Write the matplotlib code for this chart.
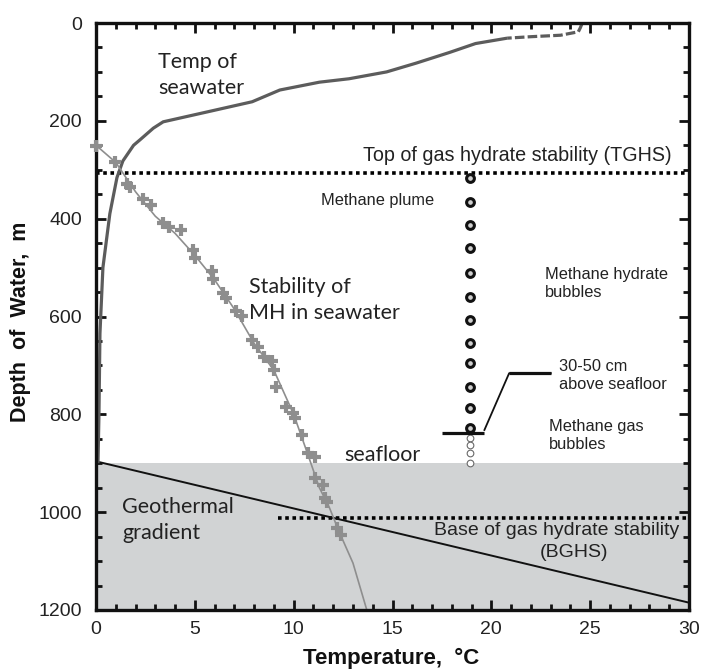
import matplotlib
matplotlib.use("Agg")
import matplotlib.pyplot as plt
from matplotlib.ticker import MultipleLocator
from matplotlib import font_manager

# ---------------- data ----------------
# Seawater temperature profile (deg C, depth m)
sw_surface_T = [24.6, 24.5, 24.4, 23.5, 22.0, 20.8]
sw_surface_d = [0, 10, 18, 25, 28, 31]
sw_T = [20.8, 19.2, 17.9, 16.2, 14.7, 12.8, 11.3, 9.3, 7.9, 5.6, 3.4, 2.9,
        2.22, 1.9, 1.36, 1.06, 0.7, 0.35, 0.2, 0.15, 0.1]
sw_d = [31, 42, 60, 82, 100, 114, 121, 137, 161, 182, 202, 215,
        239, 250, 282, 316, 390, 500, 635, 800, 900]

# Stability of methane hydrate in seawater: fitted line
mh_line_T = [0.0, 1.0, 2.0, 3.0, 4.0, 5.0, 6.0, 7.0, 8.0, 9.0, 10.0, 10.7,
             11.3, 11.8, 12.3, 13.0, 13.7]
mh_line_d = [250, 285, 345, 395, 430, 475, 525, 585, 655, 710, 800, 880,
             950, 990, 1040, 1104, 1200]
# Stability of MH: observations (+)
mh_pts_T = [0.0, 0.95, 1.57, 1.7, 2.4, 2.8, 3.4, 3.7, 4.3, 4.9, 5.0, 5.85, 5.9,
            6.4, 6.6, 7.1, 7.4, 7.9, 8.2, 8.5, 8.9, 9.0, 9.1, 9.6, 9.95, 10.05,
            10.4, 10.7, 11.06, 11.06, 11.5, 11.6, 11.7, 12.2, 12.4]
mh_pts_d = [251, 285, 329, 336, 359, 373, 408, 418, 424, 465, 481, 506, 523,
            551, 563, 588, 598, 649, 663, 683, 690, 710, 745, 786, 798, 808,
            843, 880, 888, 931, 945, 971, 980, 1033, 1047]

# Geothermal gradient
geo_T = [0.2, 30.0]
geo_d = [898, 1185]

seafloor_depth = 900
tghs_depth = 307
bghs_depth = 1012
bghs_T_start = 9.2

# Methane plume bubbles
plume_T = 18.9
hydrate_bubble_d = [317, 366, 413, 460, 511, 560, 607, 654, 695, 744, 787, 828]
gas_bubble_d = [849, 863, 879, 900]

# 30-50 cm marker bar and leader
bar_T = [17.5, 19.65]
bar_d = [838, 838]
leader_T = [19.65, 20.9, 23.0]
leader_d = [832, 716, 716]

x_ticks = [0, 5, 10, 15, 20, 25, 30]
y_ticks = [0, 200, 400, 600, 800, 1000, 1200]

# ---------------- fonts ----------------
avail = {f.name for f in font_manager.fontManager.ttflist}
arial = "Liberation Sans" if "Liberation Sans" in avail else "DejaVu Sans"
human = "Lato" if "Lato" in avail else "DejaVu Sans"

plt.rcParams["font.family"] = [arial, "DejaVu Sans"]

W, H = 701, 669
fig = plt.figure(figsize=(W / 100, H / 100), dpi=100)
ax = fig.add_axes([96 / W, 1 - 610 / H, (689 - 96) / W, (610 - 23) / H])

ax.set_xlim(0, 30)
ax.set_ylim(1200, 0)

# seafloor shading
ax.axhspan(seafloor_depth, 1200, color="#d1d3d4", lw=0, zorder=0)

# dotted TGHS / BGHS lines
ax.plot([0, 30], [tghs_depth, tghs_depth], color="black", lw=2.6,
        ls=(0, (1.0, 1.0)), zorder=3)
ax.plot([bghs_T_start, 30], [bghs_depth, bghs_depth], color="black", lw=2.6,
        ls=(0, (1.0, 1.0)), zorder=3)

# geothermal gradient
ax.plot(geo_T, geo_d, color="#111111", lw=1.4, zorder=4)

# seawater temp
ax.plot(sw_T, sw_d, color="#5c5c5c", lw=2.3, zorder=5, solid_capstyle="butt")
ax.plot(sw_surface_T, sw_surface_d, color="#5c5c5c", lw=2.3, ls=(0, (3, 1)),
        zorder=5)

# MH stability
ax.plot(mh_line_T, mh_line_d, color="#8e8e8e", lw=1.2, zorder=6)
ax.plot(mh_pts_T, mh_pts_d, ls="none", marker="+", ms=9, mew=3.0,
        color="#8e8e8e", zorder=11, clip_on=False)

# plume bubbles
ax.plot([plume_T] * len(gas_bubble_d), gas_bubble_d, ls="none", marker="o",
        ms=4.8, mew=0.8, mec="#6a6a6a", mfc="white", zorder=7)
ax.plot([plume_T] * len(hydrate_bubble_d), hydrate_bubble_d, ls="none",
        marker="o", ms=5.6, mew=2.2, mec="#111111", mfc="#cfcfcf", zorder=8)

# bar + leader
ax.plot(bar_T, bar_d, color="#111111", lw=2.3, zorder=9, solid_capstyle="butt")
ax.plot(leader_T, leader_d, color="#111111", lw=1.3, zorder=9)
ax.plot(leader_T[1:], leader_d[1:], color="#111111", lw=2.3, zorder=9,
        solid_capstyle="butt")

# ---------------- axes styling ----------------
for s in ax.spines.values():
    s.set_linewidth(2.4)
    s.set_color("#111111")
    s.set_zorder(10)

ax.xaxis.set_minor_locator(MultipleLocator(1))
ax.yaxis.set_minor_locator(MultipleLocator(50))
ax.set_xticks(x_ticks)
ax.set_yticks(y_ticks)
ax.tick_params(which="both", direction="in", top=True, right=True,
               color="#111111", width=2.0)
ax.tick_params(which="major", length=7.5, labelsize=14, pad=8)
ax.tick_params(which="minor", length=4.5)
ax.tick_params(axis="y", which="major", pad=10)
for lab in ax.get_xticklabels() + ax.get_yticklabels():
    lab.set_color("#222222")

fig.text(391 / W, 1 - 658 / H, "Temperature,  \u00b0C", ha="center",
         va="center", fontsize=16, fontweight="bold", color="#111111")
fig.text(21 / W, 1 - 322 / H, "Depth  of  Water,  m", ha="center", va="center",
         rotation=90, fontsize=15.5, fontweight="bold", color="#111111")

# ---------------- annotations ----------------
hc = "#222222"
hfam = [human, "DejaVu Sans"]
ax.text(3.13, 106, "Temp of\nseawater", family=hfam,
        fontsize=15.5, color=hc, ha="left", va="center", linespacing=1.38)
ax.text(7.74, 566, "Stability of\nMH in seawater", family=hfam,
        fontsize=15.5, color=hc, ha="left", va="center", linespacing=1.34)
ax.text(12.58, 883, "seafloor", family=hfam, fontsize=15.5,
        color=hc, ha="left", va="center")
ax.text(1.31, 1016, "Geothermal\ngradient", family=hfam,
        fontsize=15.5, color=hc, ha="left", va="center", linespacing=1.38)

ax.text(29.1, 270, "Top of gas hydrate stability (TGHS)", fontsize=14.2,
        color="#222222", ha="right", va="center")
ax.text(11.4, 362, "Methane plume", fontsize=11.8, color="#222222",
        ha="left", va="center")
ax.text(22.7, 532, "Methane hydrate\nbubbles", fontsize=11.8, color="#222222",
        ha="left", va="center", linespacing=1.26)
ax.text(23.4, 720, "30-50 cm\nabove seafloor", fontsize=11.8, color="#222222",
        ha="left", va="center", linespacing=1.26)
ax.text(22.9, 843, "Methane gas\nbubbles", fontsize=11.8, color="#222222",
        ha="left", va="center", linespacing=1.26)
ax.text(23.3, 1037, "Base of gas hydrate stability", fontsize=14,
        color="#222222", ha="center", va="center")
ax.text(24.2, 1082, "(BGHS)", fontsize=14, color="#222222", ha="center",
        va="center")

fig.savefig("out.png", dpi=100)
